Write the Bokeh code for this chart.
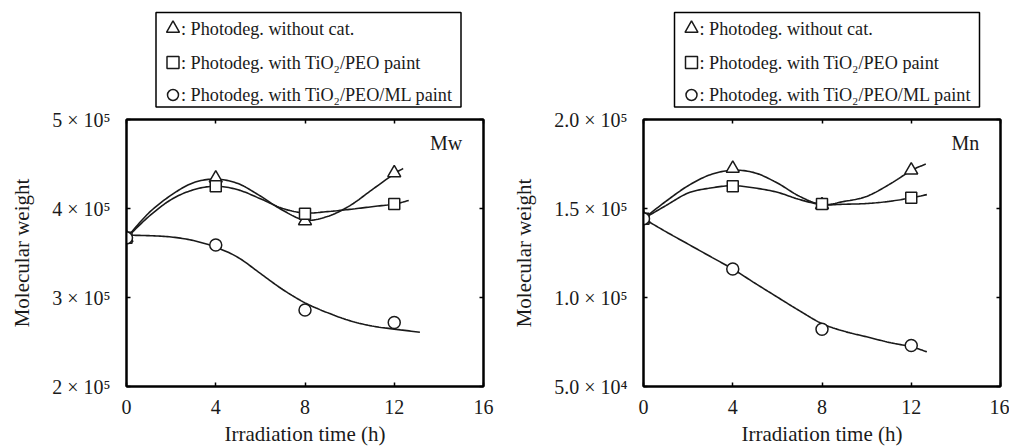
import numpy as np
from bokeh.plotting import figure
from bokeh.models import (LinearAxis, FixedTicker, Range1d, Label,
                          CustomJSTickFormatter)
from bokeh.layouts import row, column
from bokeh.embed import file_html
from bokeh.resources import INLINE
from bokeh.core.properties import value

FONT = "Liberation Serif"

# ---------------- data ----------------
hours = [0, 4, 8, 12]
x_ticks = [0, 4, 8, 12, 16]

mw_without = [3.67e5, 4.34e5, 3.86e5, 4.40e5]
mw_tio2 = [3.67e5, 4.25e5, 3.94e5, 4.05e5]
mw_ml = [3.67e5, 3.59e5, 2.86e5, 2.72e5]

mn_without = [1.443e5, 1.725e5, 1.52e5, 1.715e5]
mn_tio2 = [1.443e5, 1.625e5, 1.525e5, 1.56e5]
mn_ml = [1.443e5, 1.16e5, 0.822e5, 0.73e5]

# fitted curves
mw_without_fit_t = [0, 1, 2, 3, 4, 5, 6, 7, 8, 9, 10, 11, 12, 12.4]
mw_without_fit = [3.67e5, 3.95e5, 4.15e5, 4.29e5, 4.33e5, 4.28e5, 4.14e5,
                  3.98e5, 3.87e5, 3.91e5, 4.03e5, 4.21e5, 4.39e5, 4.45e5]
mw_tio2_fit_t = [0, 1, 2, 3, 4, 5, 6, 7, 8, 9, 10, 11, 12, 12.65]
mw_tio2_fit = [3.67e5, 3.91e5, 4.10e5, 4.21e5, 4.25e5, 4.21e5, 4.11e5,
               4.00e5, 3.95e5, 3.965e5, 3.99e5, 4.02e5, 4.05e5, 4.09e5]
mw_ml_fit_t = [0, 1, 2, 3, 4, 5, 6, 7, 8, 9, 10, 11, 12, 13.15]
mw_ml_fit = [3.70e5, 3.695e5, 3.68e5, 3.64e5, 3.565e5, 3.45e5, 3.27e5,
             3.09e5, 2.94e5, 2.83e5, 2.74e5, 2.68e5, 2.645e5, 2.61e5]

mn_without_fit_t = [0, 1, 2, 3, 4, 5, 6, 7, 8, 9, 10, 11, 12, 12.65]
mn_without_fit = [1.443e5, 1.54e5, 1.628e5, 1.69e5, 1.715e5, 1.70e5, 1.643e5,
                  1.568e5, 1.522e5, 1.54e5, 1.568e5, 1.634e5, 1.713e5, 1.75e5]
mn_tio2_fit_t = [0, 1, 2, 3, 4, 5, 6, 7, 8, 9, 10, 11, 12, 12.7]
mn_tio2_fit = [1.443e5, 1.516e5, 1.587e5, 1.615e5, 1.628e5, 1.615e5, 1.591e5,
               1.55e5, 1.522e5, 1.524e5, 1.528e5, 1.54e5, 1.56e5, 1.578e5]
mn_ml_fit_t = [0, 1, 2, 3, 4, 5, 6, 7, 8, 9, 10, 11, 12, 12.7]
mn_ml_fit = [1.443e5, 1.37e5, 1.30e5, 1.23e5, 1.16e5, 1.08e5, 1.002e5,
             0.925e5, 0.853e5, 0.81e5, 0.779e5, 0.748e5, 0.723e5, 0.695e5]

legend_labels = [": Photodeg. without cat.",
                 ": Photodeg. with TiO\u2082/PEO paint",
                 ": Photodeg. with TiO\u2082/PEO/ML paint"]
legend_markers = ["triangle", "square", "circle"]

mw_ticks = [2e5, 3e5, 4e5, 5e5]
mw_tick_labels = ["2 \u00d7 10\u2075", "3 \u00d7 10\u2075", "4 \u00d7 10\u2075", "5 \u00d7 10\u2075"]
mn_ticks = [0.5e5, 1.0e5, 1.5e5, 2.0e5]
mn_tick_labels = ["5.0 \u00d7 10\u2074", "1.0 \u00d7 10\u2075", "1.5 \u00d7 10\u2075", "2.0 \u00d7 10\u2075"]

INK = "#1a1a1a"
LEG_H = 108
MAIN_H = 340


def smooth(ts, vs, n=12):
    """Catmull-Rom rendering of the read curve points."""
    ts = np.asarray(ts, float)
    vs = np.asarray(vs, float)
    P = np.column_stack([ts, vs])
    P = np.vstack([2 * P[0] - P[1], P, 2 * P[-1] - P[-2]])
    out = []
    for i in range(1, len(P) - 2):
        p0, p1, p2, p3 = P[i - 1], P[i], P[i + 1], P[i + 2]
        for s in np.linspace(0, 1, n, endpoint=False):
            s2, s3 = s * s, s * s * s
            pt = 0.5 * ((2 * p1) + (-p0 + p2) * s +
                        (2 * p0 - 5 * p1 + 4 * p2 - p3) * s2 +
                        (-p0 + 3 * p1 - 3 * p2 + p3) * s3)
            out.append(pt)
    out.append(P[-2])
    out = np.array(out)
    return out[:, 0], out[:, 1]


def blank_axis(ticks):
    return LinearAxis(ticker=FixedTicker(ticks=ticks), major_tick_in=4,
                      major_tick_out=0,
                      formatter=CustomJSTickFormatter(code="return ''"),
                      minor_tick_line_color=None, axis_line_width=2,
                      major_tick_line_width=1.5, major_label_standoff=0)


def make_legend(width, border_left, border_right, box_left):
    """Legend box drawn in its own strip above the plot.
    The strip's frame is aligned with the plot frame; coordinates are pixels
    measured from the left edge of the figure."""
    lg = figure(width=width, height=LEG_H, output_backend="svg",
                toolbar_location=None,
                x_range=Range1d(border_left, width - border_right),
                y_range=Range1d(LEG_H, 0), x_axis_type=None, y_axis_type=None,
                min_border_left=border_left, min_border_right=border_right,
                min_border_top=0, min_border_bottom=0)
    lg.outline_line_color = None
    lg.grid.visible = False
    box_w, box_top, box_bot = 305, 12, 106.5
    lg.quad(left=[box_left], right=[box_left + box_w], top=[box_top],
            bottom=[box_bot], fill_color="white", line_color="black",
            line_width=1.5)
    rows_y = [28.0, 62.0, 94.5]
    sizes = {"triangle": 13, "square": 12, "circle": 11}
    for m, lab, yy in zip(legend_markers, legend_labels, rows_y):
        lg.scatter([box_left + 17], [yy], marker=m, size=sizes[m],
                   fill_color="white", line_color=INK, line_width=1.5)
        lg.text([box_left + 25], [yy], text=[lab], text_font=value(FONT),
                text_font_size="18.2px", text_baseline="middle",
                text_align="left", text_color=INK)
    return lg


def make_panel(width, border_left, border_right, y0, y1, yticks, ylabels,
               series, fits, tag):
    p = figure(width=width, height=MAIN_H, output_backend="svg",
               toolbar_location=None, x_range=Range1d(0, 16),
               y_range=Range1d(y0, y1), min_border_left=border_left,
               min_border_right=border_right, min_border_top=11,
               min_border_bottom=MAIN_H - 11 - 269)
    p.background_fill_color = "white"
    p.border_fill_color = "white"
    p.outline_line_color = "black"
    p.outline_line_width = 2
    p.grid.visible = False

    for ax in (p.xaxis[0], p.yaxis[0]):
        ax.axis_line_width = 2
        ax.major_tick_in = 4
        ax.major_tick_out = 0
        ax.minor_tick_line_color = None
        ax.major_tick_line_width = 1.5
        ax.major_label_text_font = FONT
        ax.major_label_text_font_size = "20px"
        ax.major_label_text_color = INK
        ax.axis_label_text_font = FONT
        ax.axis_label_text_font_size = "21px"
        ax.axis_label_text_font_style = "normal"
        ax.axis_label_text_color = INK
    p.xaxis.ticker = FixedTicker(ticks=x_ticks)
    p.yaxis.ticker = FixedTicker(ticks=yticks)
    p.yaxis.major_label_overrides = dict(zip(yticks, ylabels))
    p.xaxis.axis_label = "Irradiation time (h)"
    p.yaxis.axis_label = "Molecular weight"
    p.xaxis.major_label_standoff = 13
    p.yaxis.major_label_standoff = 16
    p.xaxis.axis_label_standoff = 5
    p.yaxis.axis_label_standoff = 15

    p.add_layout(blank_axis(x_ticks), "above")
    p.add_layout(blank_axis(yticks), "right")

    # fitted curves
    for (ft, fv) in fits:
        sx, sy = smooth(ft, fv)
        p.line(sx, sy, line_color=INK, line_width=1.6)

    (s_without, s_tio2, s_ml) = series
    p.scatter(hours, s_without, marker="triangle", size=13,
              fill_color="white", line_color=INK, line_width=1.5)
    p.scatter(hours, s_tio2, marker="square", size=11,
              fill_color="white", line_color=INK, line_width=1.5)
    p.scatter(hours, s_ml, marker="circle", size=12,
              fill_color="white", line_color=INK, line_width=1.5)

    lab = Label(x=15.05, y=y1 - (y1 - y0) * 0.088, text=tag,
                text_align="right", text_baseline="middle",
                text_font=FONT, text_font_size="20px", text_color=INK)
    p.add_layout(lab)
    return p


p1 = make_panel(500, 126, 17, 2e5, 5e5, mw_ticks, mw_tick_labels,
                (mw_without, mw_tio2, mw_ml),
                [(mw_without_fit_t, mw_without_fit), (mw_tio2_fit_t, mw_tio2_fit),
                 (mw_ml_fit_t, mw_ml_fit)], "Mw")
p2 = make_panel(509, 143, 9, 0.5e5, 2.0e5, mn_ticks, mn_tick_labels,
                (mn_without, mn_tio2, mn_ml),
                [(mn_without_fit_t, mn_without_fit), (mn_tio2_fit_t, mn_tio2_fit),
                 (mn_ml_fit_t, mn_ml_fit)], "Mn")

lg1 = make_legend(500, 126, 17, 155.5)
lg2 = make_legend(509, 143, 9, 174)

layout = row(column(lg1, p1, spacing=0), column(lg2, p2, spacing=0), spacing=0)
open("out.html", "w").write(file_html(layout, INLINE))
